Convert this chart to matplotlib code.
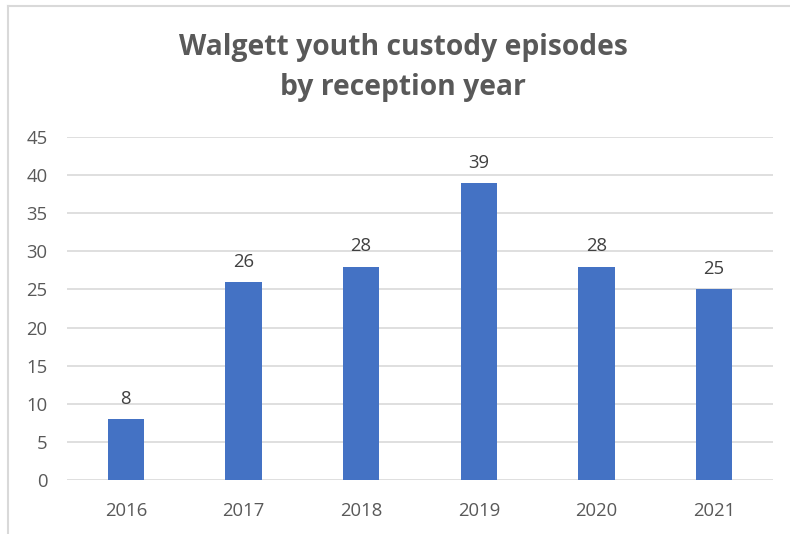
import matplotlib
matplotlib.use("Agg")
import matplotlib.pyplot as plt
from matplotlib.lines import Line2D

years = ["2016", "2017", "2018", "2019", "2020", "2021"]
episodes = [8, 26, 28, 39, 28, 25]
y_ticks = [0, 5, 10, 15, 20, 25, 30, 35, 40, 45]

W, H = 790, 534
fig = plt.figure(figsize=(W / 100, H / 100), dpi=100)
fig.patch.set_facecolor("white")

plt.rcParams["font.family"] = ["Open Sans", "DejaVu Sans"]

# plot area in pixel coordinates
left, right, top, bottom = 67, 773, 137, 480
ax = fig.add_axes([left / W, 1 - bottom / H, (right - left) / W, (bottom - top) / H])

x = list(range(len(years)))
bars = ax.bar(x, episodes, width=0.31, color="#4472C4", zorder=3)
ax.set_xlim(-0.5, len(years) - 0.5)
ax.set_ylim(0, 45)
ax.set_yticks(y_ticks)
ax.set_xticks(x)
ax.set_xticklabels(years)

for spine in ax.spines.values():
    spine.set_visible(False)
ax.grid(axis="y", color="#d9d9d9", linewidth=1.2, zorder=0)
ax.tick_params(axis="both", length=0, labelsize=13.3, colors="#595959")
ax.tick_params(axis="y", pad=14)
ax.tick_params(axis="x", pad=16)

for xi, v in zip(x, episodes):
    ax.annotate(str(v), (xi, v), xytext=(0, 8), textcoords="offset points",
                ha="center", va="bottom", fontsize=13.3, color="#404040")

fig.text(403 / W, 1 - 68 / H, "Walgett youth custody episodes\nby reception year",
         ha="center", va="center", fontsize=20.3, fontweight="bold",
         color="#595959", linespacing=1.5)

# chart frame (top and left edges)
fig.add_artist(Line2D([8 / W, 1], [1 - 6 / H, 1 - 6 / H], color="#d9d9d9", linewidth=1.5))
fig.add_artist(Line2D([8 / W, 8 / W], [0, 1 - 6 / H], color="#d9d9d9", linewidth=1.5))

fig.savefig("out.png", dpi=100)
